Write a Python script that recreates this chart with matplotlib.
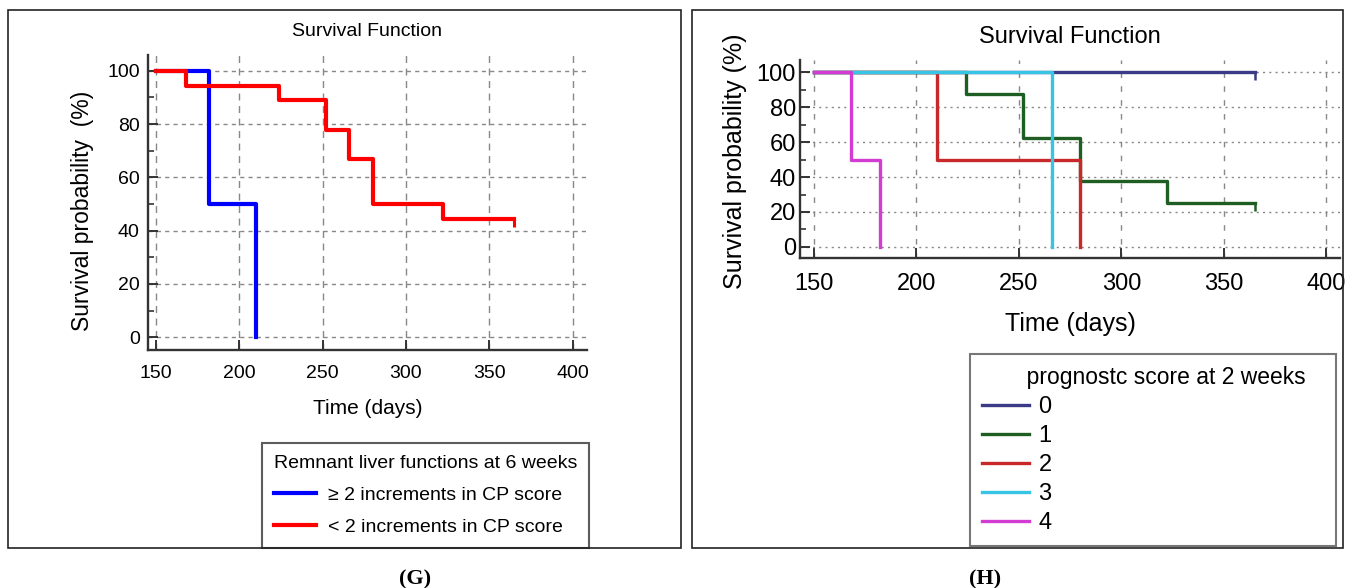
import matplotlib
matplotlib.use("Agg")
import matplotlib.pyplot as plt
from matplotlib.patches import Rectangle
from matplotlib.ticker import MultipleLocator

plt.rcParams['font.family'] = ['Liberation Sans Narrow', 'Liberation Sans', 'DejaVu Sans']

# ---- panel G data (Kaplan-Meier steps) ----
g_labels = ["\u2265 2 increments in CP score", "< 2 increments in CP score"]
g_times = [[150, 182, 210],
           [150, 168, 224, 252, 266, 280, 322, 365]]
g_surv = [[100, 50, 0],
          [100, 94.4, 88.9, 77.8, 66.7, 50.0, 44.4, 44.4]]
g_censored = [False, True]
g_colors = ["#0000ff", "#ff0000"]

# ---- panel H data ----
h_labels = ["0", "1", "2", "3", "4"]
h_times = [[150, 365],
           [150, 224, 252, 280, 322, 365],
           [150, 210, 280],
           [150, 266],
           [150, 168, 182]]
h_surv = [[100, 100],
          [100, 87.5, 62.5, 37.5, 25, 25],
          [100, 50, 0],
          [100, 0],
          [100, 50, 0]]
h_censored = [True, True, False, False, False]
h_colors = ["#3a3a86", "#1e5e22", "#c8282a", "#38c4e4", "#d23cd2"]

xticks = [150, 200, 250, 300, 350, 400]
yticks = [0, 20, 40, 60, 80, 100]

W, H = 1345, 588
fig = plt.figure(figsize=(W / 100, H / 100), dpi=100)


def px_rect(l, t, r, b):
    return [l / W, 1 - b / H, (r - l) / W, (b - t) / H]


# outer panel frames
for l, t, r, b in [(8, 10, 681, 548), (692, 10, 1343, 548)]:
    fig.patches.append(Rectangle((l / W, 1 - b / H), (r - l) / W, (b - t) / H,
                                 transform=fig.transFigure, fill=False,
                                 edgecolor="#222222", linewidth=1.2, zorder=5))


def style_axes(ax, fs, xpad, ypad, hgrid_ls, vgrid_ls):
    for s in ["top", "right"]:
        ax.spines[s].set_visible(False)
    for s in ["left", "bottom"]:
        ax.spines[s].set_color("#333333")
        ax.spines[s].set_linewidth(1.7)
    ax.set_xticks(xticks)
    ax.set_yticks(yticks)
    ax.yaxis.set_minor_locator(MultipleLocator(10))
    ax.tick_params(which="major", direction="in", length=7, width=1.4,
                   color="#333333", labelsize=fs)
    ax.tick_params(axis="x", pad=xpad)
    ax.tick_params(axis="y", pad=ypad)
    ax.tick_params(which="minor", direction="in", length=4, width=1.2,
                   color="#333333")
    ax.yaxis.grid(True, linestyle=hgrid_ls, color="#888888", linewidth=1.0)
    ax.xaxis.grid(True, linestyle=vgrid_ls, color="#888888", linewidth=1.0)
    ax.set_axisbelow(True)


# ---- panel G ----
axg = fig.add_axes(px_rect(148, 55, 587, 350))
axg.set_xlim(145.2, 408.7)
axg.set_ylim(-4.8, 105.9)
style_axes(axg, 14, 11, 6, (0, (3, 3)), (0, (5, 4)))
for t, s, c, lab, cens in zip(g_times, g_surv, g_colors, g_labels, g_censored):
    axg.step(t, s, where="post", color=c, linewidth=3.0, label=lab)
    if cens:
        axg.plot(t[-1], s[-1], marker=3, markersize=6, color=c, mew=2.2)
axg.set_title("Survival Function", fontsize=14, pad=14)
axg.set_xlabel("Time (days)", fontsize=15, labelpad=12)
axg.set_ylabel("Survival probability  (%)", fontsize=16.5)
axg.yaxis.set_label_coords(-0.122, 0.47)
lg = axg.legend(loc="upper left", bbox_to_anchor=(262 / W, 1 - 443 / H),
                bbox_transform=fig.transFigure, borderaxespad=0,
                title="Remnant liver functions at 6 weeks",
                fontsize=14, title_fontsize=14, frameon=True, fancybox=False,
                edgecolor="#333333", handlelength=2.2, handletextpad=0.6,
                borderpad=0.6, labelspacing=0.75, alignment="left")
lg.get_frame().set_linewidth(1.5)

# ---- panel H ----
axh = fig.add_axes(px_rect(800, 60, 1340, 258))
axh.set_xlim(143.2, 406.6)
axh.set_ylim(-6.3, 106.9)
style_axes(axh, 17, 11, 3, (0, (1.5, 3)), (0, (4, 6)))
for t, s, c, lab, cens in zip(h_times, h_surv, h_colors, h_labels, h_censored):
    axh.step(t, s, where="post", color=c, linewidth=2.4, label=lab)
    if cens:
        axh.plot(t[-1], s[-1], marker=3, markersize=6, color=c, mew=1.8)
axh.set_title("Survival Function", fontsize=17, pad=12)
axh.set_xlabel("Time (days)", fontsize=18, labelpad=12)
axh.set_ylabel("Survival probability (%)", fontsize=18)
axh.yaxis.set_label_coords(-0.098, 0.49)
lh = axh.legend(loc="upper left", bbox_to_anchor=(970 / W, 1 - 354 / H),
                bbox_transform=fig.transFigure, borderaxespad=0,
                title="       prognostc score at 2 weeks   ",
                fontsize=17, title_fontsize=16.5, frameon=True, fancybox=False,
                edgecolor="#555555", handlelength=2.0, handletextpad=0.4,
                borderpad=0.5, labelspacing=0.3, alignment="left")
lh.get_frame().set_linewidth(1.5)

# captions
fig.text(415 / W, 1 - 579 / H, "(G)", ha="center", va="center", fontsize=16,
         fontweight="bold", family="Liberation Serif")
fig.text(985 / W, 1 - 579 / H, "(H)", ha="center", va="center", fontsize=16,
         fontweight="bold", family="Liberation Serif")

fig.savefig("out.png", dpi=100)
